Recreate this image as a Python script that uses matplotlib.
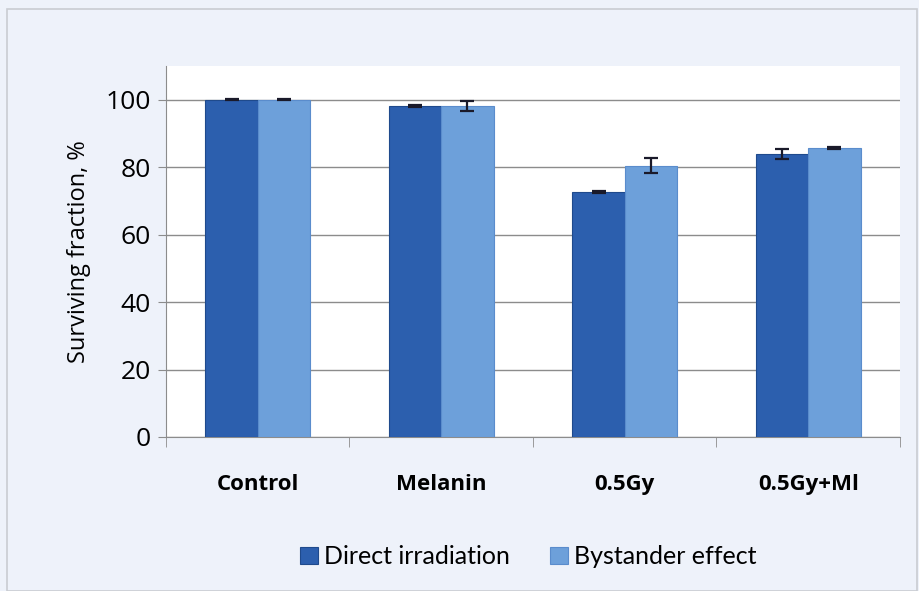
import numpy as np
import matplotlib.pyplot as plt
from matplotlib.patches import Rectangle

# values
groups = ["Control", "Melanin", "0.5Gy", "0.5Gy+Ml"]
direct = [100.0, 98.2, 72.6, 83.9]
direct_err = [0.2, 0.3, 0.3, 1.5]
bystander = [100.0, 98.1, 80.5, 85.8]
bystander_err = [0.2, 1.5, 2.1, 0.3]

dark = "#2c5fae"
light = "#6da0da"
bg = "#eef2fa"

fig = plt.figure(figsize=(9.19, 5.91), dpi=100, facecolor=bg)
# faint frame around the page
fig.patches.append(Rectangle((0.008, 0.0), 0.99, 0.985, transform=fig.transFigure,
                             fill=False, edgecolor="#c9ccd2", lw=1.2))
ax = fig.add_axes([0.1806, 0.2606, 0.7987, 0.6277])
ax.set_facecolor("white")

x = np.arange(len(groups))
w = 0.285
ax.bar(x - w / 2, direct, w, color=dark, edgecolor="#1f4a8c", lw=0.8,
       yerr=direct_err, error_kw=dict(ecolor="#1a1a2a", elinewidth=1.6, capsize=5, capthick=1.6),
       label="Direct irradiation", zorder=3)
ax.bar(x + w / 2, bystander, w, color=light, edgecolor="#5a8ccc", lw=0.8,
       yerr=bystander_err, error_kw=dict(ecolor="#1a1a2a", elinewidth=1.6, capsize=5, capthick=1.6),
       label="Bystander effect", zorder=3)

ax.set_xlim(-0.5, 3.5)
ax.set_ylim(0, 110)
ax.set_yticks(range(0, 101, 20))
ax.yaxis.grid(True, color="#8c8c8c", lw=1.0)
ax.set_axisbelow(True)

ax.set_xticks(x)
ax.set_xticklabels(groups, fontsize=16, fontweight="bold", family="Open Sans")
ax.set_xticks(np.arange(-0.5, 4.0, 1.0), minor=True)
ax.tick_params(axis="x", which="major", length=0, pad=27)
ax.tick_params(axis="x", which="minor", length=7, color="#8c8c8c", direction="out")
ax.tick_params(axis="y", length=6, color="#8c8c8c", labelsize=19, pad=5)
for lab in ax.get_yticklabels():
    lab.set_family("Open Sans")

for s in ["top", "right"]:
    ax.spines[s].set_visible(False)
ax.spines["left"].set_color("#8c8c8c")
ax.spines["bottom"].set_color("#8c8c8c")

ax.set_ylabel("Surviving fraction, %", fontsize=17, family="Open Sans", labelpad=10)

fig.legend(loc="center", bbox_to_anchor=(0.575, 0.058), ncol=2, frameon=False,
           prop=dict(family="Lato", size=18), handlelength=0.7, handleheight=0.7,
           handletextpad=0.25, columnspacing=1.6)

fig.savefig("out.png", dpi=100, facecolor=bg)
